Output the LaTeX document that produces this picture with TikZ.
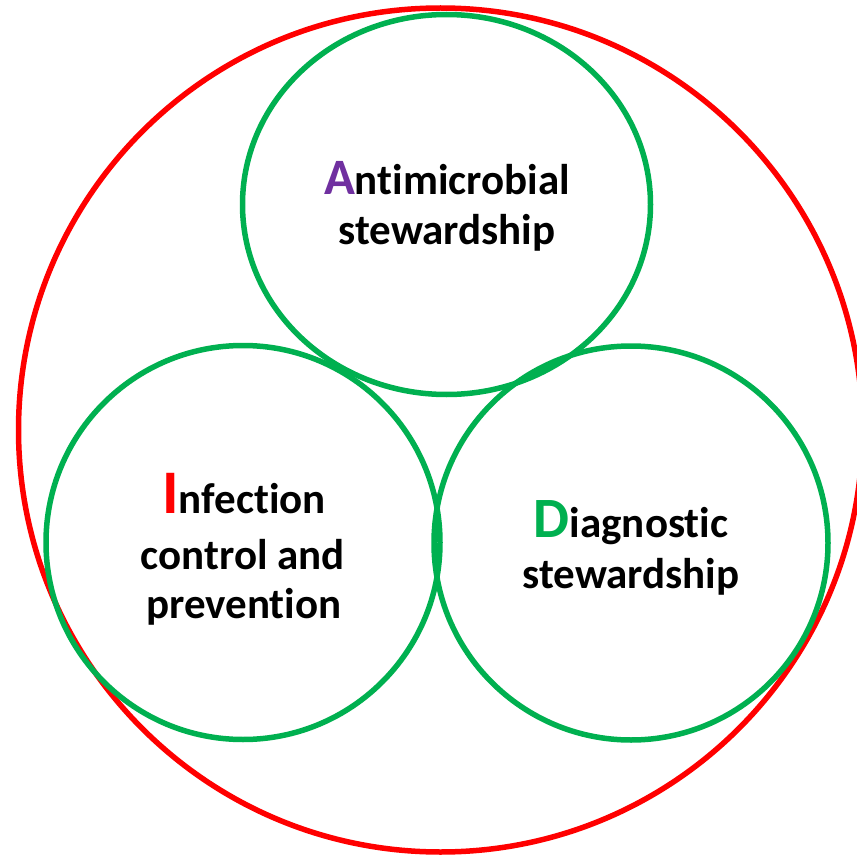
\documentclass[tikz,border=0pt]{standalone}
\usepackage{fontspec}
\setmainfont{Carlito}[Ligatures={NoCommon,NoContextual}]
\definecolor{ringred}{HTML}{FF0000}
\definecolor{ringgreen}{HTML}{00B050}
\definecolor{apurple}{HTML}{7030A0}
\begin{document}
\begin{tikzpicture}[x=1pt,y=-1pt,
  outer/.style={draw=ringred,line width=5.5pt},
  inner/.style={draw=ringgreen,line width=5.5pt},
  lbl/.style={anchor=base,inner sep=0pt,font=\fontsize{43}{50}\selectfont\bfseries,text=black}]
\useasboundingbox[fill=white] (0,0) rectangle (857,856);
\draw[outer] (440.5,430) circle [radius=422];
\draw[inner] (446.5,204.5) ellipse [x radius=204, y radius=190];
\draw[inner] (243,542.5) circle [radius=197];
\draw[inner] (631,543) circle [radius=197];
\node[lbl] (a1) at (447,194) {{\fontsize{51}{51}\selectfont\textcolor{apurple}{A}}nt\kern0pt imicrobial};
\node[lbl] (a2) at (447,244) {stewardship};
\node[lbl] (i1) at (244,513) {{\fontsize{62}{62}\selectfont\textcolor{ringred}{I}}nfect\kern0pt ion};
\node[lbl] (i2) at (243,569) {control and};
\node[lbl] (i3) at (244,618) {prevention};
\node[lbl] (d1) at (631,537) {{\fontsize{57}{57}\selectfont\textcolor{ringgreen}{D}}iagnost\kern0pt ic};
\node[lbl] (d2) at (631,588) {stewardship};
\end{tikzpicture}
\end{document}
